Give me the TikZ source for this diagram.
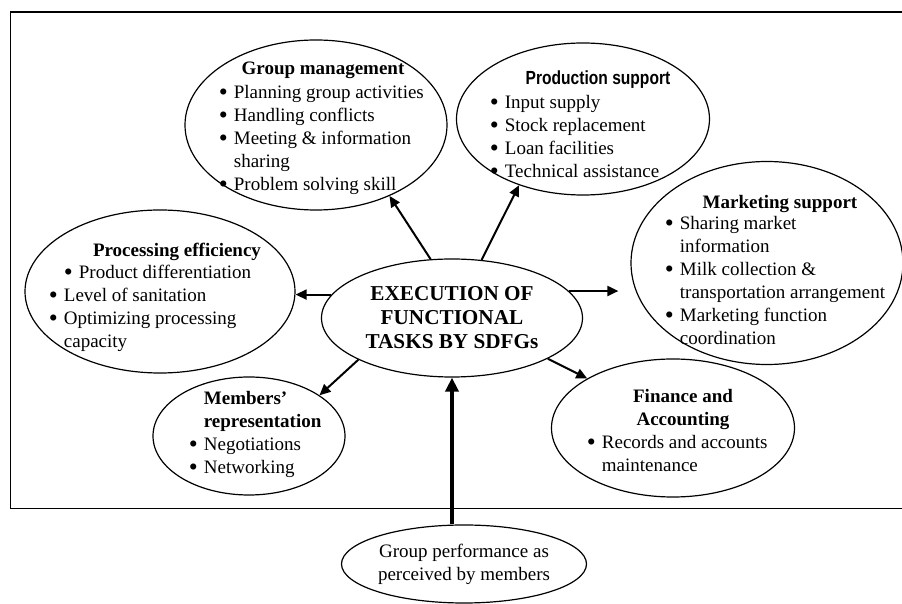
\documentclass[tikz,border=0pt]{standalone}
\usepackage{fontspec}
\setmainfont{Liberation Serif}
\newfontfamily\headsans[FakeStretch=0.82]{Liberation Sans}
\usetikzlibrary{arrows.meta, shapes.geometric}

% bullet and continuation indent for the task lists
\newcommand{\bul}{\makebox[7.5pt][l]{\raisebox{-1.3pt}{\scalebox{1.35}{\textbullet}}}}
\newcommand{\cont}{\hspace*{7.5pt}}

\begin{document}
\begin{tikzpicture}[x=0.5pt, y=-0.5pt,
    oval/.style={draw, ellipse, inner sep=0pt, line width=0.6pt},
    head/.style={inner sep=0pt, anchor=base, font=\fontsize{9.5}{11.5}\selectfont\bfseries},
    items/.style={inner sep=0pt, anchor=north west, align=left, font=\fontsize{9.5}{11.5}\selectfont},
    arrow/.style={-{Triangle[length=5.5pt, width=5pt]}, line width=1pt},
    bigarrow/.style={-{Triangle[length=7pt, width=6.5pt]}, line width=2.2pt}
]
    \useasboundingbox (0,0) rectangle (902,604);

    % Frame
    \draw[line width=0.8pt] (10.5,12) rectangle (906,508.5);

    % Central task
    \node[oval, minimum width=130.5pt, minimum height=59pt, align=center,
          font=\fontsize{10.6}{12}\selectfont\bfseries] (exec) at (452,318)
          {EXECUTION OF\\FUNCTIONAL\\TASKS BY SDFGs};

    % Group management
    \node[oval, minimum width=131pt, minimum height=85pt] (grp) at (316,125) {};
    \node[head] (grp-h) at (323,75) {Group management};
    \node[items] (grp-l) at (218.5,84.5)
        {\bul Planning group activities\\
         \bul Handling conflicts\\
         \bul Meeting \& information\\
         \cont sharing\\
         \bul Problem solving skill};

    % Production support
    \node[oval, minimum width=126.5pt, minimum height=76pt] (prod) at (583,119) {};
    \node[head, font=\fontsize{9.5}{11.5}\headsans\bfseries] (prod-h) at (598,85) {Production support};
    \node[items] (prod-l) at (489.5,94.5)
        {\bul Input supply\\
         \bul Stock replacement\\
         \bul Loan facilities\\
         \bul Technical assistance};

    % Marketing support
    \node[oval, minimum width=136pt, minimum height=101.5pt] (mkt) at (767,263) {};
    \node[head] (mkt-h) at (780,209) {Marketing support};
    \node[items] (mkt-l) at (664.5,215.5)
        {\bul Sharing market\\
         \cont information\\
         \bul Milk collection \&\\
         \cont transportation arrangement\\
         \bul Marketing function\\
         \cont coordination};

    % Processing efficiency
    \node[oval, minimum width=135pt, minimum height=81.5pt] (proc) at (160,291.5) {};
    \node[head] (proc-h) at (177,257) {Processing efficiency};
    \node[items] (proc-l) at (48.5,264.5)
        {\cont\bul Product differentiation\\
         \bul Level of sanitation\\
         \bul Optimizing processing\\
         \cont capacity};

    % Members' representation
    \node[oval, minimum width=96pt, minimum height=59pt] (mem) at (249,436) {};
    \node[items] (mem-l) at (188.5,390.5)
        {\cont\textbf{Members'}\\
         \cont\textbf{representation}\\
         \bul Negotiations\\
         \bul Networking};

    % Finance and accounting
    \node[oval, minimum width=121.5pt, minimum height=69pt] (fin) at (673,428) {};
    \node[head, anchor=north, align=center] (fin-h) at (683,389) {Finance and\\Accounting};
    \node[items] (fin-l) at (586.5,434.5)
        {\bul Records and accounts\\
         \cont maintenance};

    % Members' view of performance
    \node[oval, minimum width=122.5pt, minimum height=39pt, align=center,
          font=\fontsize{9.5}{11.5}\selectfont] (perf) at (464,564)
          {Group performance as\\perceived by members};

    % Arrows out of the central task
    \draw[arrow] (exec.110) -- (grp.-44);
    \draw[arrow] (exec.63) -- (prod.-134);
    \draw[arrow] (exec.169) -- (exec.169 -| proc.east);
    \draw[arrow, shorten >=6pt] (exec.13) -- (exec.13 -| mkt.west);
    \draw[arrow] (exec.204) -- (mem.30);
    \draw[arrow] (exec.-23) -- (fin.150);

    % Performance feeds the central task
    \draw[bigarrow] (perf.north -| exec.south) -- (exec.south);

\end{tikzpicture}
\end{document}
